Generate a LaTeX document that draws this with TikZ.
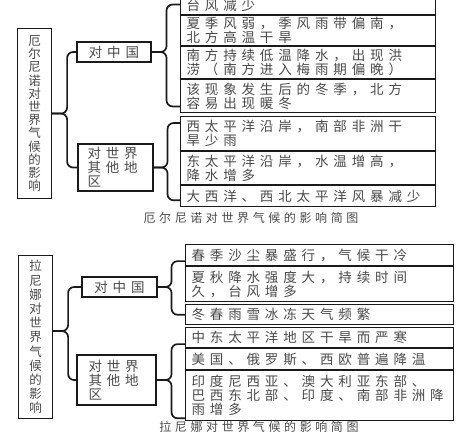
\documentclass[tikz,border=0pt]{standalone}
\usepackage{fontspec}
\usepackage{xcolor}
\usepackage{tikz}
\usetikzlibrary{positioning}
\newfontfamily\cjk[LetterSpace=36]{Noto Sans CJK SC}
\newfontfamily\cjkcap[LetterSpace=30]{Noto Sans CJK SC}
\newfontfamily\cjkv{Noto Sans CJK SC}
\definecolor{ink}{HTML}{1A1A1A}
\definecolor{textgray}{HTML}{4A4A4A}
\tikzset{
  box/.style={draw=ink,line width=1.1pt,fill=white,inner sep=0pt,text=textgray},
  vbox/.style={box,anchor=north west,minimum width=34pt,align=center,font=\cjkv\fontsize{12.5}{13.2}\selectfont},
  mbox/.style={box,align=left,font=\cjk\fontsize{13.5}{14}\selectfont},
  row/.style={box,anchor=north west,text width=243pt,inner xsep=6pt,align=left,font=\cjk\fontsize{13.5}{14}\selectfont},
  rowwide/.style={row,text width=256pt},
  brace/.style={draw=ink,line width=1.7pt,rounded corners=6pt},
  captext/.style={font=\cjkcap\fontsize{12}{14}\selectfont,text=textgray},
}

\begin{document}
\begin{tikzpicture}[x=1pt,y=-1pt]
  \useasboundingbox (0,0) rectangle (468,432);

  % El Nino
  \node[vbox,minimum height=170pt] (en) at (17,28) {厄\\尔\\尼\\诺\\对\\世\\界\\气\\候\\的\\影\\响};
  \node[mbox,minimum width=74pt,minimum height=20pt] (encn) at (114,52) {对中国};
  \node[mbox,text width=56pt,minimum width=75pt,minimum height=47pt] (enwd) at (115.5,167.5) {对世界\\其他地\\区};

  \node[row,minimum height=18pt] (en1) at (180,-4) {台风减少};
  \node[row,minimum height=30pt,below=0pt of en1] (en2) {夏季风弱，季风雨带偏南，\\北方高温干旱};
  \node[row,minimum height=32pt,below=0pt of en2] (en3) {南方持续低温降水，出现洪\\涝（南方进入梅雨期偏晚）};
  \node[row,minimum height=33pt,below=0pt of en3] (en4) {该现象发生后的冬季，北方\\容易出现暖冬};

  \node[row,minimum height=34pt] (ew1) at (180,116) {西太平洋沿岸，南部非洲干\\旱少雨};
  \node[row,minimum height=33pt,below=0pt of ew1] (ew2) {东太平洋沿岸，水温增高，\\降水增多};
  \node[row,minimum height=21pt,below=0pt of ew2] (ew3) {大西洋、西北太平洋风暴减少};

  \draw[brace] (encn.west) -| ([xshift=15pt]en.east) -- (en.east);
  \draw[brace] (enwd.west) -| ([xshift=15pt]en.east) -- (en.east);
  \draw[brace] ([yshift=1pt]en1.west) -| ([xshift=15pt]encn.east) -- (encn.east);
  \draw[brace] ([yshift=7pt]en4.south west) -| ([xshift=15pt]encn.east) -- (encn.east);
  \draw[brace] ([yshift=-7pt]ew1.north west) -| ([xshift=14pt]enwd.east) -- (enwd.east);
  \draw[brace] ([yshift=7pt]ew3.south west) -| ([xshift=14pt]enwd.east) -- (enwd.east);

  \node[captext] (encap) at (251,218) {厄尔尼诺对世界气候的影响简图};

  % La Nina
  \node[vbox,minimum height=163pt,font=\cjkv\fontsize{12.5}{14.2}\selectfont] (ln) at (18,255) {拉\\尼\\娜\\对\\世\\界\\气\\候\\的\\影\\响};
  \node[mbox,minimum width=75pt,minimum height=20pt] (lncn) at (119.5,287) {对中国};
  \node[mbox,text width=56pt,minimum width=79pt,minimum height=50pt] (lnwd) at (116.5,380) {对世界\\其他地\\区};

  \node[rowwide,minimum height=21pt] (ln1) at (185,244) {春季沙尘暴盛行，气候干冷};
  \node[rowwide,minimum height=35pt,below=0pt of ln1] (ln2) {夏秋降水强度大，持续时间\\久，台风增多};
  \node[rowwide,minimum height=20pt,below=2pt of ln2] (ln3) {冬春雨雪冰冻天气频繁};

  \node[rowwide,minimum height=20pt] (lw1) at (185,327) {中东太平洋地区干旱而严寒};
  \node[rowwide,minimum height=21pt,below=0pt of lw1] (lw2) {美国、俄罗斯、西欧普遍降温};
  \node[rowwide,minimum height=50pt,below=0pt of lw2] (lw3) {印度尼西亚、澳大利亚东部、\\巴西东北部、印度、南部非洲降\\雨增多};

  \draw[brace] (lncn.west) -| ([xshift=15pt,yshift=6pt]ln.east) -- ([yshift=6pt]ln.east);
  \draw[brace] (lnwd.west) -| ([xshift=15pt,yshift=6pt]ln.east) -- ([yshift=6pt]ln.east);
  \draw[brace] ([yshift=5pt]ln1.south west) -| ([xshift=14pt]lncn.east) -- (lncn.east);
  \draw[brace] (ln3.west) -| ([xshift=14pt]lncn.east) -- (lncn.east);
  \draw[brace] ([yshift=4pt]lw1.south west) -| ([xshift=15pt]lnwd.east) -- (lnwd.east);
  \draw[brace] ([yshift=3pt]lw3.south west) -| ([xshift=15pt]lnwd.east) -- (lnwd.east);

  \node[captext] (lncap) at (259,426.5) {拉尼娜对世界气候的影响简图};
\end{tikzpicture}
\end{document}
